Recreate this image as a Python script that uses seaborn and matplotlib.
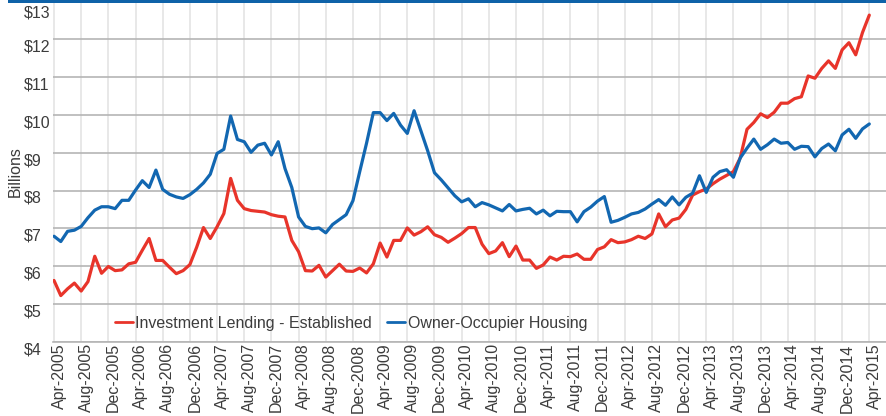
import numpy as np
import pandas as pd
import matplotlib
matplotlib.use("Agg")
import matplotlib.pyplot as plt
import seaborn as sns
from matplotlib.transforms import ScaledTranslation
from matplotlib.patches import Rectangle

# ---------------- data (monthly, Apr-2005 .. Apr-2015, $ billions) ----------------
months = pd.date_range("2005-04-01", "2015-04-01", freq="MS")

investment_established = [
    5.62, 5.22, 5.40, 5.55, 5.34, 5.59, 6.26, 5.81, 5.99, 5.88,
    5.90, 6.06, 6.10, 6.42, 6.73, 6.15, 6.15, 5.97, 5.80, 5.88,
    6.04, 6.50, 7.02, 6.73, 7.04, 7.39, 8.32, 7.74, 7.52, 7.47,
    7.45, 7.43, 7.36, 7.32, 7.30, 6.68, 6.38, 5.88, 5.87, 6.02,
    5.71, 5.88, 6.05, 5.87, 5.86, 5.95, 5.82, 6.06, 6.61, 6.24,
    6.68, 6.68, 7.01, 6.82, 6.91, 7.04, 6.83, 6.76, 6.63, 6.74,
    6.86, 7.02, 7.02, 6.58, 6.33, 6.40, 6.62, 6.25, 6.53, 6.16,
    6.16, 5.94, 6.03, 6.24, 6.16, 6.26, 6.25, 6.32, 6.18, 6.18,
    6.44, 6.51, 6.70, 6.62, 6.64, 6.70, 6.79, 6.73, 6.85, 7.38,
    7.04, 7.22, 7.27, 7.50, 7.88, 7.97, 8.04, 8.18, 8.30, 8.40,
    8.50, 8.86, 9.62, 9.80, 10.03, 9.93, 10.07, 10.31, 10.31, 10.43,
    10.48, 11.03, 10.97, 11.23, 11.43, 11.23, 11.72, 11.91, 11.59, 12.18,
    12.64,
]

owner_occupier = [
    6.79, 6.65, 6.92, 6.95, 7.05, 7.28, 7.48, 7.57, 7.57, 7.52,
    7.74, 7.74, 8.01, 8.26, 8.08, 8.54, 8.03, 7.90, 7.83, 7.79,
    7.89, 8.03, 8.20, 8.43, 8.98, 9.09, 9.97, 9.35, 9.29, 9.01,
    9.20, 9.25, 8.94, 9.29, 8.58, 8.08, 7.30, 7.05, 6.99, 7.01,
    6.88, 7.10, 7.23, 7.36, 7.73, 8.50, 9.25, 10.06, 10.06, 9.85,
    10.04, 9.73, 9.51, 10.11, 9.58, 9.05, 8.47, 8.28, 8.07, 7.86,
    7.70, 7.78, 7.57, 7.68, 7.62, 7.54, 7.46, 7.63, 7.46, 7.50,
    7.53, 7.38, 7.48, 7.33, 7.45, 7.44, 7.44, 7.17, 7.44, 7.56,
    7.72, 7.84, 7.16, 7.21, 7.29, 7.38, 7.42, 7.51, 7.64, 7.76,
    7.61, 7.83, 7.62, 7.82, 7.93, 8.39, 7.95, 8.35, 8.50, 8.55,
    8.35, 8.86, 9.12, 9.36, 9.09, 9.21, 9.36, 9.25, 9.27, 9.09,
    9.17, 9.16, 8.89, 9.11, 9.23, 9.05, 9.47, 9.62, 9.38, 9.63,
    9.76,
]

series_names = ["Investment Lending - Established", "Owner-Occupier Housing"]
tick_positions = list(range(0, len(months), 4))
tick_labels = [months[i].strftime("%b-%Y") for i in tick_positions]
y_ticks = [4, 5, 6, 7, 8, 9, 10, 11, 12, 13]
y_tick_labels = [f"${v}" for v in y_ticks]

# ---------------- styling ----------------
RED = "#E8342A"
BLUE = "#1267B1"
TEXT = "#3c3c3c"
FS = 11.5

sns.set_theme(style="white")
plt.rcParams["font.family"] = ["Liberation Sans", "DejaVu Sans"]

W, H = 887, 416
fig = plt.figure(figsize=(W / 100, H / 100), dpi=100)
ax_left, ax_right, ax_top, ax_bottom = 53, 887, 1.5, 341.7
ax = fig.add_axes([ax_left / W, 1 - ax_bottom / H,
                   (ax_right - ax_left) / W, (ax_bottom - ax_top) / H])

df = pd.DataFrame({
    "idx": np.concatenate([np.arange(len(months))] * 2),
    "value": investment_established + owner_occupier,
    "series": [series_names[0]] * len(months) + [series_names[1]] * len(months),
})

sns.lineplot(data=df, x="idx", y="value", hue="series", hue_order=series_names,
             palette=[RED, BLUE], linewidth=2.3, ax=ax, legend=True)

# axis limits: first point ~54px, last point ~869px
ppm = (869.3 - 54) / 120
ax.set_xlim(-1 / ppm, 120 + (ax_right - 869.3) / ppm)
ax.set_ylim(4, 13)

# grid
ax.set_axisbelow(True)
ax.grid(axis="y", color="#b5b5b5", linewidth=1.2)
ax.grid(axis="x", color="#e4e4e4", linewidth=1.2)
for s in ["top", "right", "left"]:
    ax.spines[s].set_visible(False)
ax.spines["bottom"].set_color("#b5b5b5")
ax.spines["bottom"].set_linewidth(1.2)

# ticks
ax.set_xticks(tick_positions)
ax.set_xticklabels(tick_labels, rotation=90, fontsize=FS, color=TEXT)
ax.set_yticks(y_ticks)
ax.set_yticklabels(y_tick_labels, fontsize=FS, color=TEXT)
ax.tick_params(axis="both", length=0)
ax.tick_params(axis="x", pad=1.2)
ax.tick_params(axis="y", pad=0)

for lab in ax.get_yticklabels():
    lab.set_horizontalalignment("left")
    dy = -10 if lab.get_text() == "$13" else -6.5
    lab.set_transform(lab.get_transform() +
                      ScaledTranslation(-29 / 100, dy / 100, fig.dpi_scale_trans))
for lab in ax.get_xticklabels():
    lab.set_transform(lab.get_transform() +
                      ScaledTranslation(5 / 100, 0, fig.dpi_scale_trans))

ax.set_xlabel("")
ax.set_ylabel("Billions", fontsize=FS, color=TEXT, va="center")
ax.yaxis.set_label_coords((15 - ax_left) / (ax_right - ax_left), 0.5)

# legend
handles, labels = ax.get_legend_handles_labels()
leg = ax.legend(handles, labels, loc="center left",
                bbox_to_anchor=((115 - ax_left) / (ax_right - ax_left),
                                (ax_bottom - 323.3) / (ax_bottom - ax_top)),
                ncol=2, frameon=False, fontsize=FS, handlelength=1.125,
                handletextpad=0.15, columnspacing=0.95, borderpad=0,
                borderaxespad=0)
for t in leg.get_texts():
    t.set_color(TEXT)
for h in leg.get_lines():
    h.set_linewidth(2.0)

# top decorative bar
fig.add_artist(Rectangle((8 / W, 1 - 2.7 / H), 1 - 8 / W, 2.7 / H,
                         transform=fig.transFigure, color="#0E62A8", lw=0))

fig.savefig("out.png", dpi=100)
